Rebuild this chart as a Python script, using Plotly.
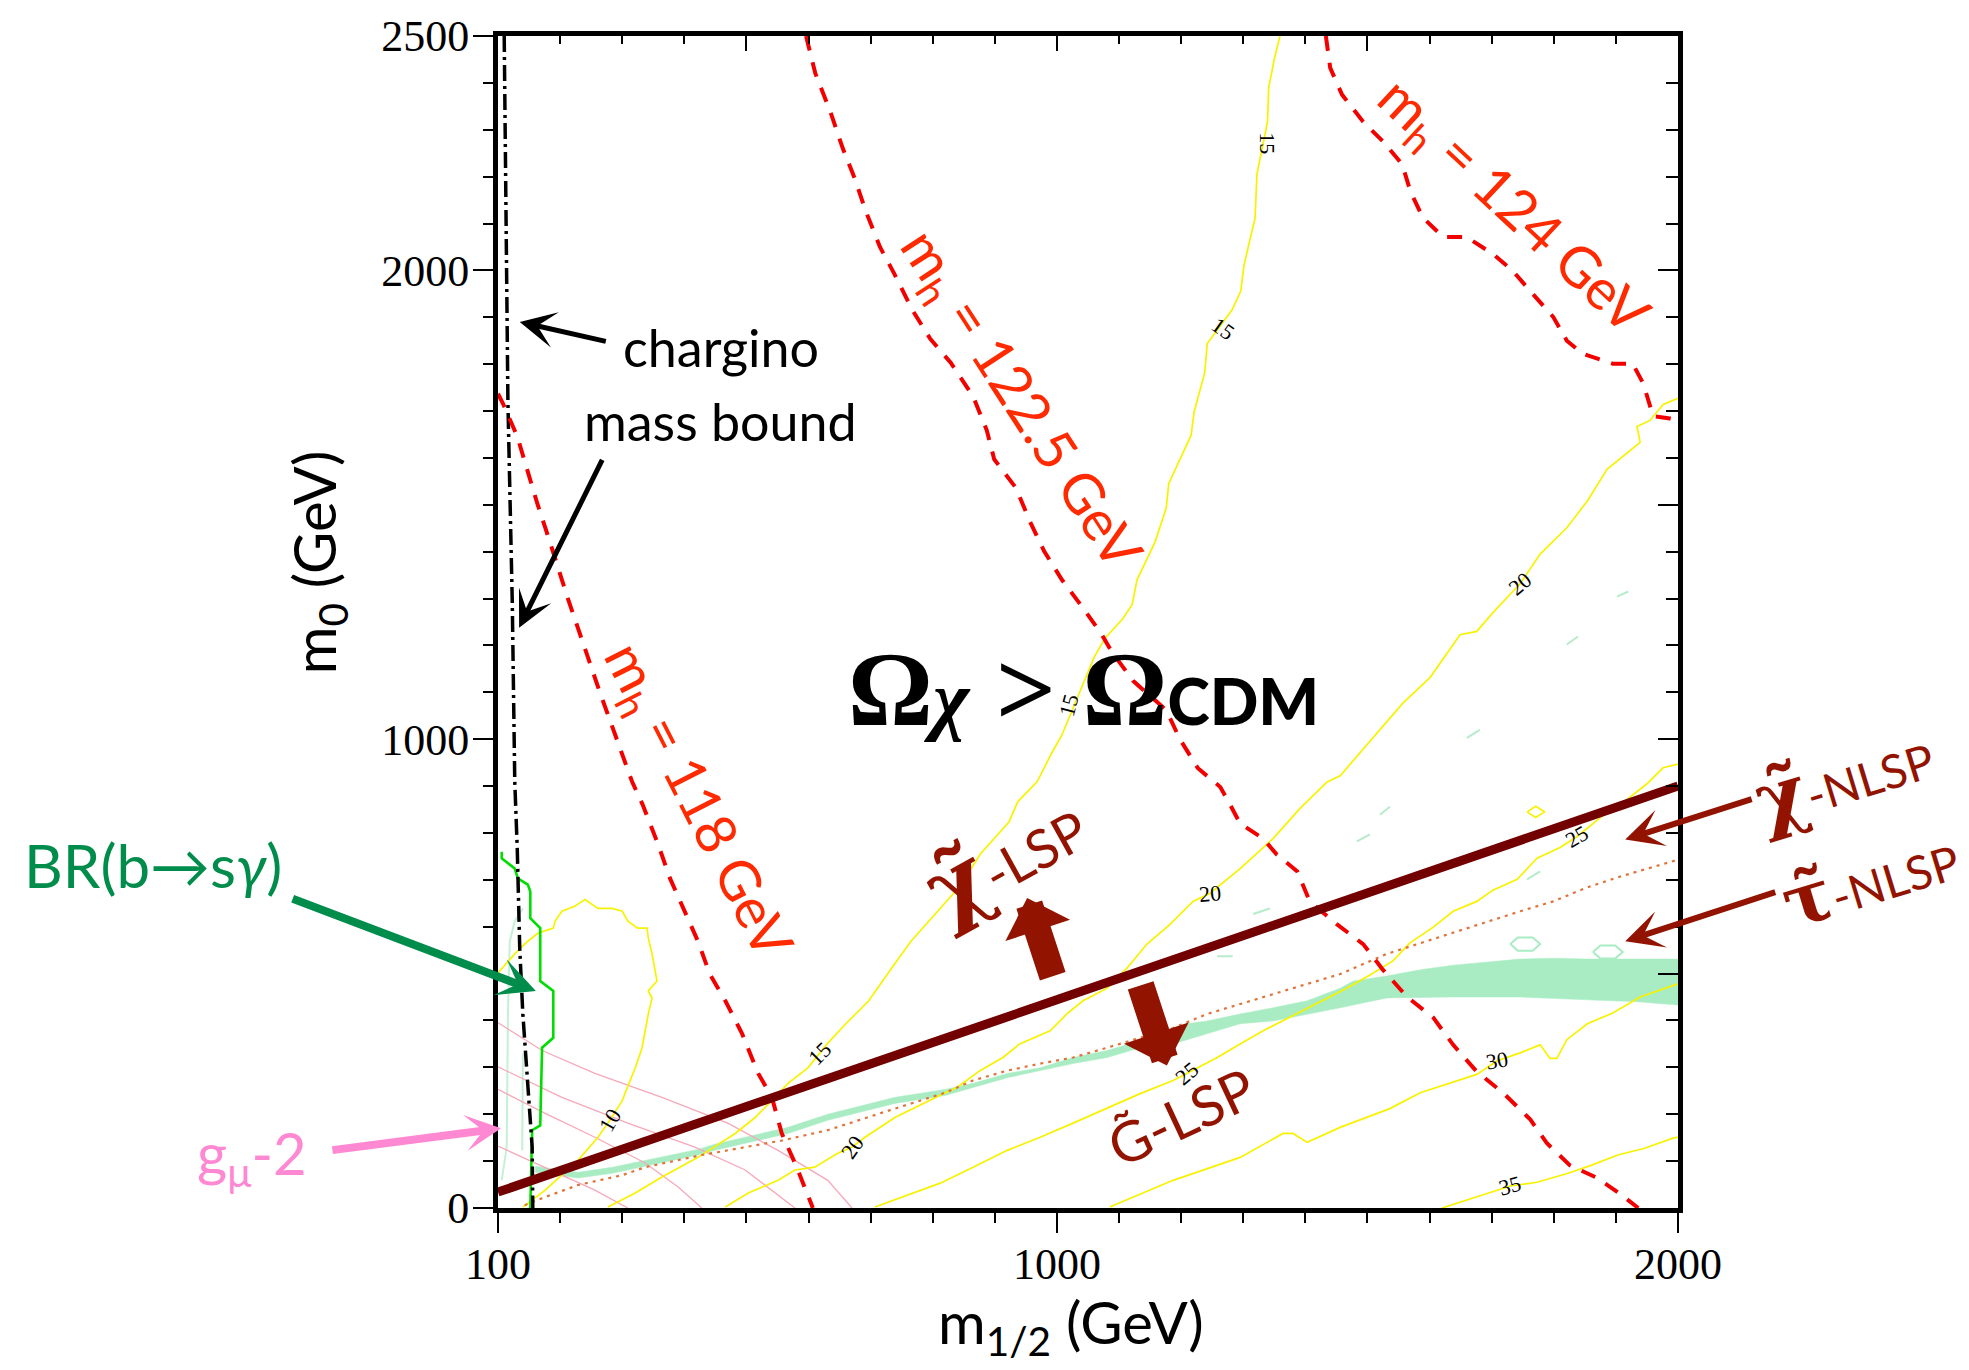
import plotly.graph_objects as go

# ---------------- axes ----------------
X_RANGE = [100, 2000]
Y_RANGE = [0, 2500]
X_TICKVALS = [100, 500, 1000, 1500, 2000]
X_TICKTEXT = ["100", "", "1000", "", "2000"]
X_MINOR = list(range(100, 2001, 100))
Y_TICKVALS = [0, 500, 1000, 1500, 2000, 2500]
Y_TICKTEXT = ["0", "", "1000", "", "2000", "2500"]
Y_MINOR = list(range(0, 2501, 100))

# ---------------- data (m_1/2 , m_0 in GeV) ----------------
# chi-LSP / gravitino-LSP boundary
bound_m12 = [100, 2000]
bound_m0 = [34, 900]

# Higgs mass contours
mh118_m12 = [100, 108, 131, 147, 163, 184, 211, 264, 316, 333, 358, 377, 401, 422, 441, 466, 493, 519, 541, 557, 581, 602, 607]
mh118_m0 = [1737, 1716, 1646, 1574, 1504, 1419, 1306, 1100, 909, 860, 775, 703, 633, 569, 499, 442, 372, 287, 236, 159, 87, 17, 0]
mh1225_m12 = [596, 611, 635, 655, 675, 692, 715, 738, 767, 796, 829, 865, 887, 899, 934, 957, 979, 1008, 1043, 1071, 1089, 1123,
              1176, 1198, 1227, 1263, 1279, 1295, 1332, 1354, 1387, 1407, 1451, 1493, 1525, 1564, 1606, 1638, 1676, 1718, 1762,
              1789, 1826, 1870, 1907, 1936]
mh1225_m0 = [2500, 2420, 2339, 2261, 2194, 2127, 2050, 1993, 1916, 1854, 1803, 1731, 1659, 1597, 1536, 1463, 1402, 1340, 1278,
             1226, 1185, 1124, 1062, 1000, 938, 898, 860, 820, 788, 754, 718, 654, 605, 563, 508, 450, 406, 348, 291, 246, 189,
             138, 91, 64, 30, 0]
mh124_m12 = [1433, 1440, 1459, 1493, 1525, 1556, 1569, 1589, 1622, 1660, 1702, 1734, 1762, 1799, 1821, 1847, 1895, 1927, 1944,
             1960, 1987, 2000]
mh124_m0 = [2500, 2432, 2375, 2317, 2275, 2226, 2169, 2113, 2071, 2071, 2035, 1999, 1956, 1901, 1850, 1822, 1801, 1801, 1759,
            1689, 1684, 1680]

# yellow contours (labelled 10 ... 35)
c10_m12 = [140, 176, 229, 261, 280, 300, 321, 332, 342, 348, 342, 356, 348, 342, 340, 325, 309, 300, 284, 261, 240, 224, 203,
           192, 189, 164, 148, 127, 103, 100]
c10_m0 = [2, 38, 102, 151, 187, 229, 299, 342, 414, 448, 463, 484, 542, 576, 597, 597, 612, 633, 639, 639, 658, 644, 633, 612,
          597, 586, 569, 542, 506, 500]
c15_m12 = [1359, 1350, 1341, 1339, 1322, 1319, 1308, 1301, 1296, 1282, 1242, 1238, 1221, 1216, 1198, 1180, 1176, 1158, 1129,
           1121, 1106, 1077, 1060, 1037, 1008, 991, 968, 937, 923, 876, 846, 808, 765, 734, 697, 660, 630, 599, 567, 541, 514,
           482, 449, 422, 364, 321, 277]
c15_m0 = [2500, 2451, 2390, 2317, 2205, 2111, 2050, 2009, 1956, 1916, 1844, 1782, 1699, 1648, 1597, 1545, 1493, 1421, 1340,
          1287, 1257, 1215, 1175, 1102, 1009, 969, 909, 867, 824, 754, 690, 633, 569, 512, 442, 393, 350, 299, 266, 229, 193,
          159, 130, 108, 66, 32, 2]
c20_m12 = [2000, 1976, 1955, 1934, 1939, 1918, 1886, 1854, 1821, 1778, 1746, 1702, 1676, 1649, 1601, 1557, 1504, 1456, 1435,
           1391, 1348, 1295, 1246, 1219, 1182, 1145, 1113, 1081, 1042, 1016, 989, 940, 913, 876, 839, 820, 739, 691, 670, 647,
           610, 578, 551, 503, 466]
c20_m0 = [1727, 1714, 1680, 1667, 1633, 1610, 1576, 1508, 1451, 1395, 1332, 1270, 1230, 1223, 1132, 1077, 996, 922, 909, 852,
          788, 724, 671, 654, 605, 563, 512, 469, 442, 414, 378, 350, 321, 293, 257, 246, 193, 151, 130, 117, 87, 81, 59, 32, 2]
c25_m12 = [2000, 1976, 1950, 1907, 1879, 1837, 1810, 1773, 1741, 1702, 1676, 1638, 1606, 1568, 1541, 1504, 1464, 1424, 1403,
           1364, 1332, 1295, 1258, 1209, 1187, 1134, 1085, 1026, 973, 920, 865, 812, 707]
c25_m0 = [947, 939, 905, 860, 837, 792, 769, 746, 701, 678, 654, 633, 599, 565, 527, 497, 467, 440, 427, 399, 378, 350, 321,
          287, 272, 244, 215, 181, 151, 123, 87, 53, 2]
c30_m12 = [1085, 1187, 1295, 1364, 1380, 1403, 1456, 1536, 1585, 1638, 1676, 1709, 1746, 1778, 1794, 1805, 1821, 1854, 1895,
           1939, 1992, 2000]
c30_m0 = [2, 59, 108, 159, 159, 140, 172, 212, 246, 268, 285, 314, 331, 348, 319, 319, 359, 393, 416, 450, 474, 478]
c35_m12 = [1620, 1665, 1730, 1773, 1823, 1860, 1903, 1945, 1992, 2000]
c35_m0 = [0, 19, 47, 55, 74, 91, 113, 127, 149, 151]
diamond_m12 = [1757, 1771, 1785, 1771, 1757]
diamond_m0 = [845, 857, 845, 833, 845]

# contour labels
clab_text = ["10", "15", "15", "15", "15", "20", "20", "20", "25", "25", "30", "35"]
clab_m12 = [280, 618, 1019, 1267, 1339, 670, 1246, 1746, 1209, 1837, 1709, 1730]
clab_m0 = [187, 329, 1072, 1876, 2270, 130, 671, 1332, 287, 792, 314, 47]
clab_ang = [-60, -45, -75, 35, 90, -55, -5, -40, -40, -30, -10, -15]

# dark-matter (stau coannihilation) strip
mint_top_m12 = [160, 229, 284, 337, 422, 449, 567, 631, 739, 820, 865, 920, 973, 1026, 1081, 1134, 1209, 1242, 1295, 1348, 1403,
                1456, 1477, 1531, 1585, 1638, 1692, 1746, 1799, 1854, 1907, 2000]
mint_top_m0 = [89, 76, 87, 102, 125, 136, 172, 200, 236, 253, 266, 287, 299, 321, 336, 357, 393, 399, 414, 427, 442, 469, 484,
               495, 508, 518, 525, 531, 533, 531, 531, 531]
mint_bot_m12 = [2000, 1934, 1854, 1746, 1638, 1531, 1456, 1403, 1348, 1295, 1242, 1187, 1134, 1081, 1026, 973, 920, 865, 820,
                739, 631, 567, 449, 422, 337, 284, 229, 160]
mint_bot_m0 = [433, 440, 444, 450, 450, 448, 427, 414, 399, 393, 372, 350, 342, 321, 308, 293, 278, 257, 240, 223, 187, 159,
               123, 113, 89, 74, 64, 76]
mintleft_m12 = [140, 127, 119, 116, 114, 106]
mintleft_m0 = [639, 612, 569, 414, 130, 59]
mintleft2_m12 = [140, 139]
mintleft2_m0 = [329, 123]
mintdash_m12 = [1483, 1504, None, 1520, 1536, None, 1316, 1343, None, 1258, 1283, None, 1660, 1681, None, 1821, 1839, None,
                1757, 1778, None, 1902, 1920]
mintdash_m0 = [782, 797, None, 839, 856, None, 627, 639, None, 537, 537, None, 1003, 1020, None, 1202, 1219, None, 701, 718,
               None, 1304, 1315]
hex1_m12 = [1730, 1742, 1766, 1778, 1766, 1742, 1730]
hex1_m0 = [563, 577, 577, 563, 549, 549, 563]
hex2_m12 = [1863, 1875, 1899, 1911, 1899, 1875, 1863]
hex2_m0 = [546, 560, 560, 546, 532, 532, 546]

# stau-NLSP boundary (dotted)
stau_m12 = [143, 171, 229, 300, 337, 428, 557, 631, 739, 820, 865, 920, 973, 1026, 1081, 1134, 1187, 1242, 1295, 1348, 1403,
            1456, 1531, 1585, 1638, 1692, 1746, 1799, 1854, 1907, 1992, 2000]
stau_m0 = [6, 21, 49, 70, 87, 113, 144, 166, 212, 246, 272, 293, 308, 321, 342, 363, 384, 414, 435, 457, 478, 499, 542, 565,
           586, 610, 633, 654, 684, 707, 741, 743]

# b -> s gamma
bsg_m12 = [106, 106, 127, 132, 148, 152, 152, 168, 168, 189, 189, 171, 168, 155, 152]
bsg_m0 = [760, 746, 724, 703, 690, 675, 618, 597, 484, 463, 363, 342, 176, 166, 0]

# g_mu - 2
gm1_m12 = [100, 171, 256, 364, 470, 551, 631, 670]
gm1_m0 = [395, 336, 287, 236, 181, 123, 59, 0]
gm2_m12 = [100, 203, 309, 417, 498, 578]
gm2_m0 = [301, 236, 181, 130, 81, 0]
gm3_m12 = [100, 176, 256, 337, 390, 428]
gm3_m0 = [253, 202, 151, 96, 45, 0]
gm4_m12 = [100, 176, 256, 309]
gm4_m0 = [132, 87, 38, 0]

# chargino mass bound
char_m12 = [110, 116, 123, 127, 131, 135, 140, 147, 155, 156]
char_m0 = [2500, 1716, 1292, 909, 767, 554, 414, 272, 130, 0]

# ---------------- styles ----------------
MAROON = "#730000"
RED = "#F20000"
YELLOW = "#F8F200"
MINT = "#A9ECC3"
ORANGE = "#E0733A"
PINKL = "#F6A8B8"
GREEN = "#00DD00"
TXTRED = "#FF2A00"
DARKRED = "#921400"
BRGREEN = "#008D4C"
PINKT = "#FF88D2"
SANS = "Lato, 'Open Sans', sans-serif"
SERIF = "'Liberation Serif', 'DejaVu Serif', serif"

fig = go.Figure()


def add_line(x, y, color, width, dash=None, fill=None, fillcolor=None):
    fig.add_trace(go.Scatter(x=x, y=y, mode="lines", fill=fill, fillcolor=fillcolor,
                             line=dict(color=color, width=width, dash=dash),
                             hoverinfo="skip", showlegend=False))


add_line(mint_top_m12 + mint_bot_m12, mint_top_m0 + mint_bot_m0, MINT, 0.5, fill="toself", fillcolor=MINT)
add_line(mintleft_m12, mintleft_m0, "#C4F0D6", 2)
add_line(mintleft2_m12, mintleft2_m0, "#C4F0D6", 2)
add_line(mintdash_m12, mintdash_m0, "#B6EBCB", 2)
add_line(hex1_m12, hex1_m0, MINT, 2)
add_line(hex2_m12, hex2_m0, MINT, 2)
for gx, gy in [(gm1_m12, gm1_m0), (gm2_m12, gm2_m0), (gm3_m12, gm3_m0), (gm4_m12, gm4_m0)]:
    add_line(gx, gy, PINKL, 1.3)
for cx, cy in [(c10_m12, c10_m0), (c15_m12, c15_m0), (c20_m12, c20_m0), (c25_m12, c25_m0),
               (c30_m12, c30_m0), (c35_m12, c35_m0), (diamond_m12, diamond_m0)]:
    add_line(cx, cy, YELLOW, 1.7)
add_line(stau_m12, stau_m0, ORANGE, 2.2, dash="3px,5px")
add_line(bsg_m12, bsg_m0, GREEN, 2.6)
add_line(char_m12, char_m0, "black", 3.5, dash="16px,5px,3px,5px")
for hx, hy in [(mh118_m12, mh118_m0), (mh1225_m12, mh1225_m0), (mh124_m12, mh124_m0)]:
    add_line(hx, hy, RED, 4, dash="15px,12px")
add_line(bound_m12, bound_m0, MAROON, 9)
# dummy trace for the mirrored (inside-tick) axes
fig.add_trace(go.Scatter(x=[None], y=[None], xaxis="x2", yaxis="y2", mode="lines",
                         hoverinfo="skip", showlegend=False))

ann = []
# contour labels
for t, x, y, a in zip(clab_text, clab_m12, clab_m0, clab_ang):
    ann.append(dict(text=t, x=x, y=y, textangle=a, showarrow=False, xanchor="center", yanchor="middle",
                    font=dict(family=SERIF, size=22, color="black")))


def txt(text, x, y, size, color, angle=0, family=SANS, ref="x"):
    ann.append(dict(text=text, x=x, y=y, xref="x" if ref == "x" else "paper", yref="y" if ref == "x" else "paper",
                    textangle=angle, showarrow=False, xanchor="center", yanchor="middle",
                    font=dict(family=family, size=size, color=color)))


def arrow(x, y, ax, ay, color, width, head, size):
    ann.append(dict(text="", x=x, y=y, ax=ax, ay=ay, xref="x", yref="y", axref="x", ayref="y",
                    showarrow=True, arrowhead=head, arrowsize=size, arrowwidth=width,
                    arrowcolor=color, standoff=0, startstandoff=0))


def to_paper(m12, m0):
    return (m12 - X_RANGE[0]) / (X_RANGE[1] - X_RANGE[0]), (m0 - Y_RANGE[0]) / (Y_RANGE[1] - Y_RANGE[0])


txt("m<sub>h</sub> = 118 GeV", 420, 867, 56, TXTRED, 63)
txt("m<sub>h</sub> = 122.5 GeV", 940, 1722, 56, TXTRED, 57)
txt("m<sub>h</sub> = 124 GeV", 1734, 2135, 56, TXTRED, 43)
txt("chargino", 459, 1837, 52, "black")
txt("mass bound", 459, 1678, 52, "black")
txt('<b>Ω<span style="font-size:78px"><i>χ</i></span> &gt; Ω'
    '<span style="font-family:Lato;font-weight:900;font-size:64px">CDM</span></b>',
    1042, 1107, 106, "black", 0, SERIF)
txt('<span style="font-family:DejaVu Serif;font-size:88px"><b>χ̃</b></span>-LSP', 916, 750, 54, DARKRED, -29)
txt("G̃-LSP", 1200, 195, 56, DARKRED, -25)

# texts lying outside the plotting frame (placed in paper units derived from data)
px, py = to_paper(-456, 731)
txt("BR(b→s<i>γ</i>)", px, py, 60, BRGREEN, ref="paper")
px, py = to_paper(-296, 108)
txt("g<sub>μ</sub>-2", px, py, 58, PINKT, ref="paper")
px, py = to_paper(2266, 920)
txt('<span style="font-family:DejaVu Serif;font-size:76px"><b>χ̃</b></span>-NLSP', px, py, 47, DARKRED, -17, ref="paper")
px, py = to_paper(2309, 703)
txt('<span style="font-family:DejaVu Serif;font-size:72px"><b>τ̃</b></span>-NLSP', px, py, 47, DARKRED, -17, ref="paper")

arrow(135, 1890, 276, 1848, "black", 5, 3, 1.2)
arrow(134, 1238, 269, 1599, "black", 5, 3, 1.2)
arrow(161, 463, -233, 661, BRGREEN, 8, 3, 0.8)
arrow(105, 170, -169, 123, PINKT, 8, 3, 0.75)
arrow(952, 661, 994, 491, DARKRED, 27, 1, 0.42)
arrow(1177, 304, 1134, 478, DARKRED, 27, 1, 0.42)
arrow(1915, 786, 2121, 873, DARKRED, 6, 3, 1.05)
arrow(1915, 569, 2159, 675, DARKRED, 6, 3, 1.05)

# axis titles
ann.append(dict(text="m<sub>0</sub> (GeV)", xref="paper", yref="paper", x=-0.1525, y=0.551,
                xanchor="center", yanchor="middle",
                textangle=-90, showarrow=False, font=dict(family=SANS, size=58, color="black")))
ann.append(dict(text="m<sub>1/2</sub> (GeV)", xref="paper", yref="paper", x=0.4856, y=-0.101,
                xanchor="center", yanchor="middle",
                showarrow=False, font=dict(family=SANS, size=58, color="black")))

tickfont = dict(family=SERIF, size=44, color="black")
fig.update_layout(
    width=1969, height=1370,
    margin=dict(l=498, r=291, t=31, b=162),
    paper_bgcolor="white", plot_bgcolor="white",
    showlegend=False,
    annotations=ann,
    xaxis=dict(range=X_RANGE, tickmode="array", tickvals=X_TICKVALS, ticktext=X_TICKTEXT,
               ticks="outside", ticklen=20, tickwidth=2, tickcolor="black",
               showline=True, linewidth=5, linecolor="black", mirror=True,
               showgrid=False, zeroline=False, tickfont=tickfont, ticklabelstandoff=-7,
               minor=dict(tickmode="array", tickvals=X_MINOR, ticks="outside", ticklen=10,
                          tickwidth=2, tickcolor="black", showgrid=False)),
    yaxis=dict(range=Y_RANGE, tickmode="array", tickvals=Y_TICKVALS, ticktext=Y_TICKTEXT,
               ticks="outside", ticklen=20, tickwidth=2, tickcolor="black",
               showline=True, linewidth=5, linecolor="black", mirror=True,
               showgrid=False, zeroline=False, tickfont=tickfont, ticklabelstandoff=-5,
               minor=dict(tickmode="array", tickvals=Y_MINOR, ticks="outside", ticklen=10,
                          tickwidth=2, tickcolor="black", showgrid=False)),
    xaxis2=dict(range=X_RANGE, overlaying="x", side="top", anchor="y",
                tickmode="array", tickvals=X_TICKVALS, ticks="inside", ticklen=15, tickwidth=2,
                tickcolor="black", showticklabels=False, showline=False, showgrid=False, zeroline=False,
                minor=dict(tickmode="array", tickvals=X_MINOR, ticks="inside", ticklen=8,
                           tickwidth=2, tickcolor="black", showgrid=False)),
    yaxis2=dict(range=Y_RANGE, overlaying="y", side="right", anchor="x",
                tickmode="array", tickvals=Y_TICKVALS, ticks="inside", ticklen=20, tickwidth=2,
                tickcolor="black", showticklabels=False, showline=False, showgrid=False, zeroline=False,
                minor=dict(tickmode="array", tickvals=Y_MINOR, ticks="inside", ticklen=12,
                           tickwidth=2, tickcolor="black", showgrid=False)),
)

fig.write_html("out.html")
